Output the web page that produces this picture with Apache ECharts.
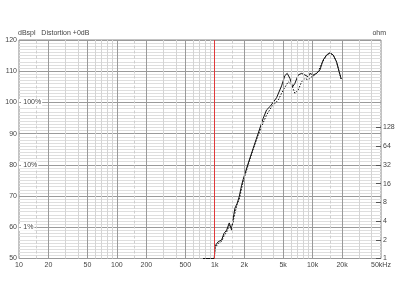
<!DOCTYPE html>
<html><head><meta charset="utf-8">
<script src="https://cdn.jsdelivr.net/npm/echarts@6/dist/echarts.min.js"></script>
<style>html,body{margin:0;padding:0;background:#fff}#c{width:400px;height:300px}</style>
</head><body><div id="c"></div>
<script>
// ---- data ----
var freqTicks = [10, 20, 50, 100, 200, 500, 1000, 2000, 5000, 10000, 20000, 50000];
var freqTickLabels = ['10', '20', '50', '100', '200', '500', '1k', '2k', '5k', '10k', '20k', '50kHz'];
var majorFreqLines = [20, 50, 100, 200, 500, 1000, 2000, 5000, 10000, 20000];
var minorFreqLines = [30, 40, 60, 70, 80, 90, 300, 400, 600, 700, 800, 900, 3000, 4000, 6000, 7000, 8000, 9000, 30000, 40000];
var dashedFreqLines = [15, 150, 1500, 15000];
var ohmTicks = [1, 2, 4, 8, 16, 32, 64, 128];
var pctLabels = [[100, '- 100%'], [80, '- 10%'], [60, '- 1%']];
var markerFreq = 1000;

var splFreq = [760, 990, 1005, 1087, 1175, 1241, 1324, 1407, 1488, 1545, 1607, 1698, 1779, 1883, 1955, 2198, 2472, 2780, 3127, 3388, 3700, 4285, 4820, 5210, 5505, 5865, 6250, 6595, 7130, 7725, 8345, 9020, 9380, 10140, 10985, 11880, 12830, 13890, 15020, 16230, 17580, 18690, 19310, 19600];
var splDb = [50, 50, 54, 55.4, 55.9, 58.0, 59.1, 61.4, 59.1, 62.9, 66.1, 67.7, 69.8, 73.5, 75.4, 80.5, 85.3, 90.1, 94.9, 97.6, 98.8, 101.5, 105.3, 108.6, 109.3, 107.7, 105.0, 106.1, 108.8, 109.3, 108.8, 108.2, 109.3, 108.8, 109.3, 110.4, 113.6, 115.2, 115.9, 115.2, 113.0, 109.8, 109.3, 107.5];

var dotFreq = [760, 990, 1010, 1087, 1175, 1241, 1324, 1407, 1488, 1545, 1607, 1698, 1779, 1883, 1955, 2198, 2472, 2780, 3127, 3388, 3811, 4460, 5015, 5640, 6110, 6595, 7130, 7725, 8345, 9020, 9770, 10550, 11400, 12360, 13890, 15020, 16230, 17580, 18690, 19310, 19600];
var dotDb = [50, 50, 53.5, 54.8, 55.5, 57.2, 58.5, 60.6, 60.0, 62.0, 64.5, 67.5, 69.0, 72.5, 74.8, 80.0, 85.0, 89.6, 93.5, 96.0, 98.6, 100.8, 104.0, 106.6, 105.6, 102.9, 104.0, 106.6, 107.7, 107.2, 108.2, 108.8, 109.8, 112.5, 115.0, 115.8, 115.2, 113.0, 109.8, 109.3, 107.5];

// ---- build ----
function pairs(xs, ys) { return xs.map(function (x, i) { return [x, ys[i]]; }); }
var FONT = 'Liberation Sans';
var TXT = '#444';
var gridLines = [];
majorFreqLines.forEach(function (f) { gridLines.push({ xAxis: f, lineStyle: { color: '#9a9a9a', width: 1, type: 'solid' } }); });
minorFreqLines.forEach(function (f) { gridLines.push({ xAxis: f, lineStyle: { color: '#d4d4d4', width: 1, type: 'solid' } }); });
dashedFreqLines.forEach(function (f) { gridLines.push({ xAxis: f, lineStyle: { color: '#cfcfcf', width: 1, type: [3, 2] } }); });

var chart = echarts.init(document.getElementById('c'), null, { renderer: 'canvas' });
chart.setOption({
  backgroundColor: '#fff',
  animation: false,
  textStyle: { fontFamily: FONT },
  title: [
    { text: 'dBspl   Distortion +0dB', left: 18, top: 30, textStyle: { fontSize: 7, fontWeight: 'normal', color: TXT, fontFamily: FONT }, padding: 0 },
    { text: 'ohm', right: 14, top: 30, textStyle: { fontSize: 7, fontWeight: 'normal', color: TXT, fontFamily: FONT }, padding: 0 }
  ],
  grid: { left: 19, right: 19, top: 40, bottom: 41.5, show: true, borderColor: '#888', borderWidth: 1 },
  xAxis: {
    type: 'log', logBase: 10, min: 10, max: 50000,
    axisLine: { show: false },
    axisTick: { show: false },
    splitLine: { show: false },
    minorSplitLine: { show: false },
    axisLabel: {
      customValues: freqTicks, fontSize: 7, color: TXT, margin: 3, fontFamily: FONT,
      formatter: function (v) { var i = freqTicks.indexOf(Math.round(v)); return i >= 0 ? freqTickLabels[i] : ''; }
    }
  },
  yAxis: [
    {
      type: 'value', min: 50, max: 120, interval: 10,
      axisLine: { show: false }, axisTick: { show: false },
      axisLabel: { fontSize: 7, color: TXT, margin: 2, fontFamily: FONT },
      splitLine: { show: true, lineStyle: { color: '#9a9a9a', width: 1 } },
      minorTick: { show: false, splitNumber: 10 },
      minorSplitLine: { show: true, lineStyle: { color: '#dedede', width: 1 } }
    },
    {
      type: 'log', logBase: 2, min: 1, max: Math.pow(2, 70 / 6), position: 'right',
      axisLine: { show: false },
      axisTick: { show: true, inside: true, length: 5, customValues: ohmTicks, lineStyle: { color: '#555' } },
      splitLine: { show: false }, minorSplitLine: { show: false },
      axisLabel: { customValues: ohmTicks, fontSize: 7, color: TXT, margin: 2, fontFamily: FONT }
    }
  ],
  series: [
    {
      type: 'line', name: 'grid', data: [], silent: true, z: 1,
      markLine: { silent: true, symbol: ['none', 'none'], label: { show: false }, animation: false, data: gridLines },
      markPoint: {
        silent: true, symbol: 'rect', symbolSize: 0, animation: false,
        label: { show: true, position: 'right', distance: 0, fontSize: 7, color: TXT, fontFamily: FONT, backgroundColor: '#fff', padding: [0, 1, 0, 0] },
        data: pctLabels.map(function (p) { return { coord: [10, p[0]], label: { formatter: p[1] } }; })
      }
    },
    {
      type: 'line', name: 'marker', data: [], silent: true, z: 2,
      markLine: { silent: true, symbol: ['none', 'none'], label: { show: false }, animation: false,
        data: [{ xAxis: markerFreq, lineStyle: { color: '#e03a3a', width: 1, type: 'solid' } }] }
    },
    {
      type: 'line', name: 'dotted', data: pairs(dotFreq, dotDb), showSymbol: false, smooth: false, z: 3,
      lineStyle: { color: '#111', width: 1, type: [1.5, 1.5] }
    },
    {
      type: 'line', name: 'spl', data: pairs(splFreq, splDb), showSymbol: false, smooth: false, z: 4,
      lineStyle: { color: '#111', width: 1 }
    }
  ]
});
</script></body></html>
